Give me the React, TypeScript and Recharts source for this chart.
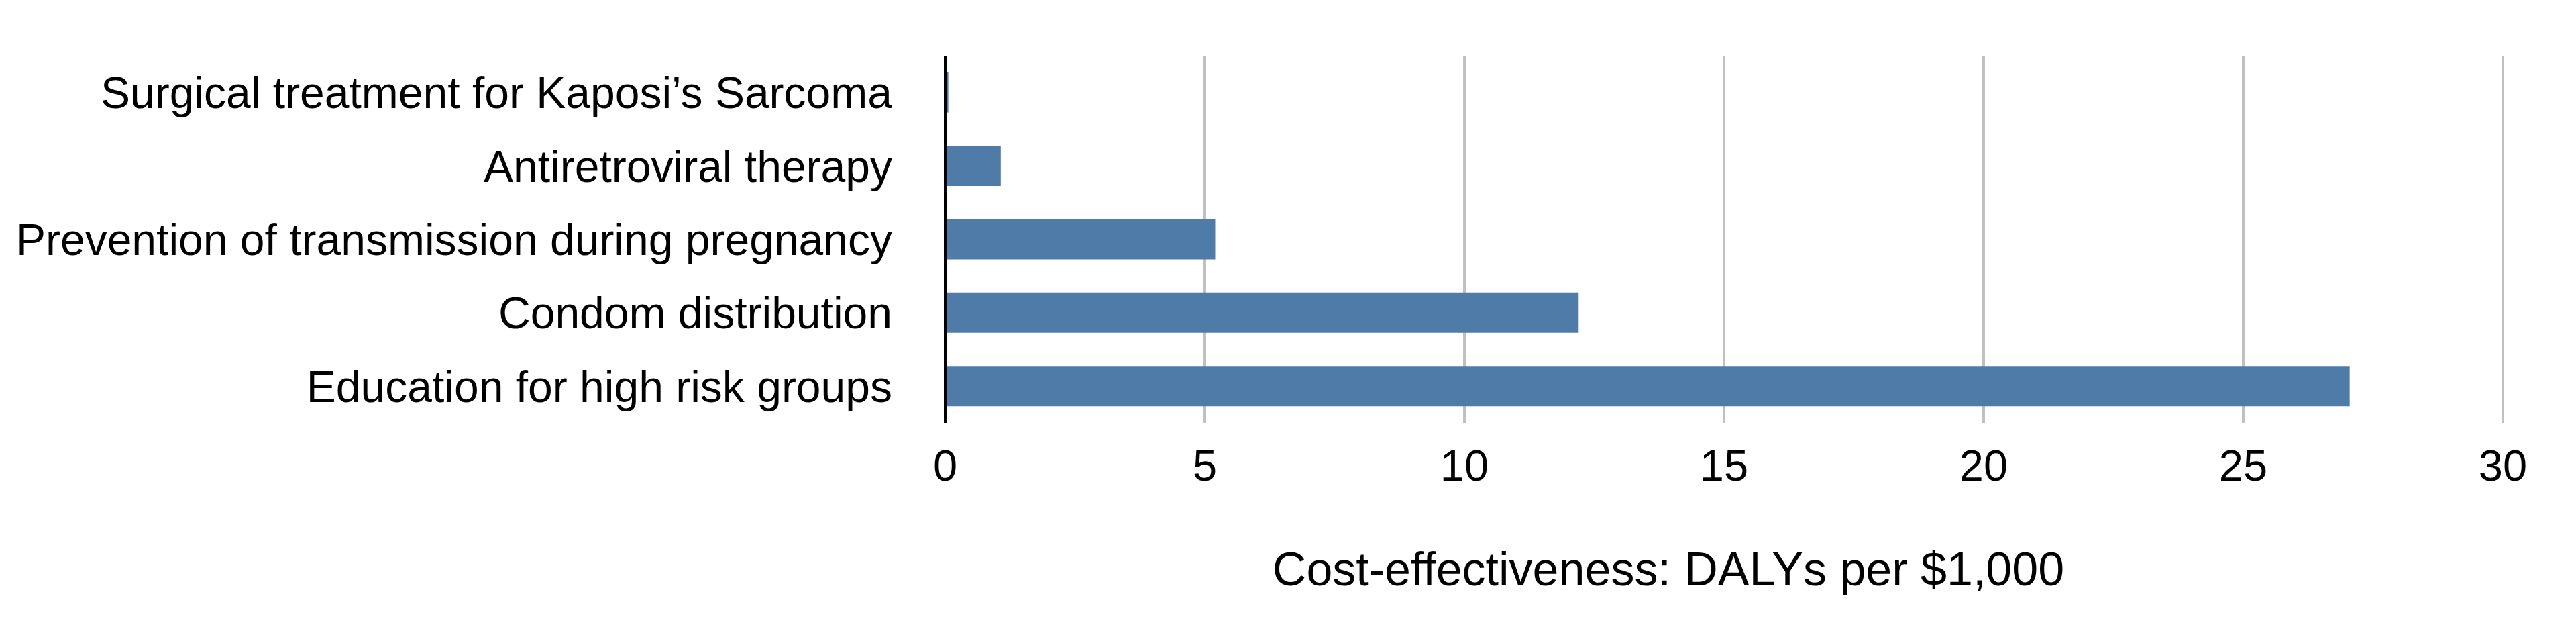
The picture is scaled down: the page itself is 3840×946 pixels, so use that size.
import { BarChart, Bar, XAxis, YAxis, CartesianGrid, Label } from "recharts";

const categories = [
  "Surgical treatment for Kaposi\u2019s Sarcoma",
  "Antiretroviral therapy",
  "Prevention of transmission during pregnancy",
  "Condom distribution",
  "Education for high risk groups",
];
const dalysPer1000 = [0.06, 1.07, 5.2, 12.2, 27.05];
const xTicks = [0, 5, 10, 15, 20, 25, 30];
const axisTitle = "Cost-effectiveness: DALYs per $1,000";

const font = "'Liberation Sans', Arial, Helvetica, sans-serif";

const App = () => {
  const chartData = categories.map((name, i) => ({ name, value: dalysPer1000[i] }));

  return (
    <div style={{ position: "absolute", left: 0, top: 0, background: "#fff" }}>
      <BarChart
        width={3840}
        height={946}
        data={chartData}
        layout="vertical"
        margin={{ top: 83, right: 109, bottom: 0, left: 0 }}
        barCategoryGap="22.5%"
      >
        <CartesianGrid horizontal={false} stroke="#c0c0c0" strokeWidth={4} />
        <XAxis
          type="number"
          domain={[0, 30]}
          ticks={xTicks}
          height={316}
          axisLine={false}
          tickLine={false}
          tickSize={0}
          tickMargin={40}
          tick={{ fill: "#000", fontSize: 65, fontFamily: font }}
        >
          <Label
            content={({ viewBox }: any) => (
              <text
                x={viewBox.x + viewBox.width / 2 - 83}
                y={872}
                textAnchor="middle"
                fill="#000"
                fontSize={70}
                fontFamily={font}
              >
                {axisTitle}
              </text>
            )}
          />
        </XAxis>
        <YAxis
          type="category"
          dataKey="name"
          width={1409}
          axisLine={{ stroke: "#000", strokeWidth: 4 }}
          tickLine={false}
          tickSize={0}
          tickMargin={79}
          interval={0}
          tick={{ fill: "#000", fontSize: 66, fontFamily: font }}
        />
        <Bar dataKey="value" fill="#4f7ba9" isAnimationActive={false} />
      </BarChart>
    </div>
  );
};

export default App;
